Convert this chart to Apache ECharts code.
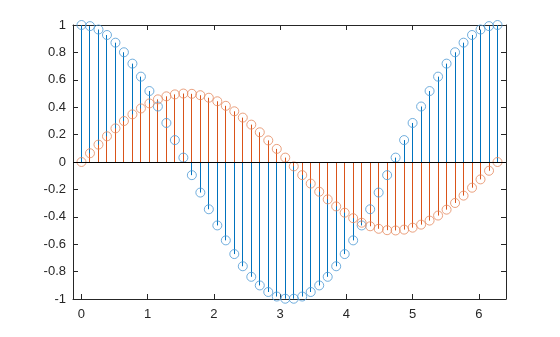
<!DOCTYPE html>
<html>
<head>
<meta charset="utf-8">
<script src="https://cdn.jsdelivr.net/npm/echarts@6/dist/echarts.min.js"></script>
<style>html,body{margin:0;padding:0;background:#fff}#c{width:560px;height:337px}</style>
</head>
<body>
<div id="c"></div>
<script>
const xs = [0, 0.1282, 0.2565, 0.3847, 0.5129, 0.6411, 0.7694, 0.8976, 1.0258, 1.1541,
  1.2823, 1.4105, 1.5387, 1.6670, 1.7952, 1.9234, 2.0517, 2.1799, 2.3081, 2.4363,
  2.5646, 2.6928, 2.8210, 2.9493, 3.0775, 3.2057, 3.3339, 3.4622, 3.5904, 3.7186,
  3.8468, 3.9751, 4.1033, 4.2315, 4.3598, 4.4880, 4.6162, 4.7444, 4.8727, 5.0009,
  5.1291, 5.2574, 5.3856, 5.5138, 5.6420, 5.7703, 5.8985, 6.0267, 6.1550, 6.2832];
const blueVals = [1, 0.992, 0.967, 0.927, 0.871, 0.801, 0.718, 0.623, 0.518, 0.405,
  0.285, 0.160, 0.032, -0.096, -0.223, -0.345, -0.463, -0.572, -0.672, -0.761,
  -0.838, -0.901, -0.949, -0.982, -0.998, -0.998, -0.982, -0.949, -0.901, -0.838,
  -0.761, -0.672, -0.572, -0.463, -0.345, -0.223, -0.096, 0.032, 0.160, 0.285,
  0.405, 0.518, 0.623, 0.718, 0.801, 0.871, 0.927, 0.967, 0.992, 1];
const orangeVals = [0, 0.0639, 0.1268, 0.1876, 0.2454, 0.2991, 0.3478, 0.3909, 0.4276, 0.4572,
  0.4793, 0.4936, 0.4997, 0.4977, 0.4875, 0.4692, 0.4433, 0.4101, 0.3701, 0.3241,
  0.2728, 0.2169, 0.1576, 0.0956, 0.0320, -0.0320, -0.0956, -0.1576, -0.2169, -0.2728,
  -0.3241, -0.3701, -0.4101, -0.4433, -0.4692, -0.4875, -0.4977, -0.4997, -0.4936, -0.4793,
  -0.4572, -0.4276, -0.3909, -0.3478, -0.2991, -0.2454, -0.1876, -0.1268, -0.0639, 0];
const xTicks = [0, 1, 2, 3, 4, 5, 6];
const xMin = -0.1282, xMax = 6.4114;
const yMin = -1, yMax = 1, yStep = 0.2;

const BLUE = '#0072BD', ORANGE = '#D95319', AX = '#262626';
const BLUE_M = '#4d9ad4', ORANGE_M = '#e58a5f';
const FONT = 'Liberation Sans, Arial, Helvetica, sans-serif';

function pairs(vals){ return xs.map((x,i)=>[x, vals[i]]); }
function stemSeries(vals, color){
  return {
    type: 'custom', xAxisIndex: 0, yAxisIndex: 0, data: pairs(vals),
    encode: {x: 0, y: 1}, silent: true, z: 2,
    renderItem: function(params, api){
      const p0 = api.coord([api.value(0), 0]);
      const p1 = api.coord([api.value(0), api.value(1)]);
      const px = Math.round(p0[0] - 0.5) + 0.5;
      return {type: 'line', shape: {x1: px, y1: p0[1], x2: px, y2: p1[1]},
              style: {stroke: color, lineWidth: 1}};
    }
  };
}
function markerSeries(vals, color){
  return {
    type: 'scatter', data: pairs(vals), symbol: 'circle', symbolSize: 9,
    itemStyle: {color: 'rgba(0,0,0,0)', borderColor: color, borderWidth: 1},
    silent: true, z: 4
  };
}
const tickCommon = {show: true, inside: true, length: 5, lineStyle: {color: AX, width: 1}};

const chart = echarts.init(document.getElementById('c'), null, {renderer: 'canvas'});
chart.setOption({
  animation: false,
  backgroundColor: '#fff',
  grid: {left: 73, right: 54, top: 25, bottom: 38, show: false},
  xAxis: [
    {type: 'value', min: xMin, max: xMax, position: 'bottom',
     axisLine: {show: true, onZero: false, lineStyle: {color: AX, width: 1}},
     axisTick: Object.assign({customValues: xTicks}, tickCommon),
     axisLabel: {customValues: xTicks, color: AX, fontSize: 13, fontFamily: FONT, margin: 9},
     splitLine: {show: false}},
    {type: 'value', min: xMin, max: xMax, position: 'top',
     axisLine: {show: true, onZero: false, lineStyle: {color: AX, width: 1}},
     axisTick: Object.assign({customValues: xTicks}, tickCommon),
     axisLabel: {show: false}, splitLine: {show: false}}
  ],
  yAxis: [
    {type: 'value', min: yMin, max: yMax, interval: yStep, position: 'left',
     axisLine: {show: true, onZero: false, lineStyle: {color: AX, width: 1}},
     axisTick: tickCommon,
     axisLabel: {color: AX, fontSize: 13, fontFamily: FONT, margin: 7,
       formatter: v => String(Math.round(v * 10) / 10)},
     splitLine: {show: false}},
    {type: 'value', min: yMin, max: yMax, interval: yStep, position: 'right',
     axisLine: {show: true, onZero: false, lineStyle: {color: AX, width: 1}},
     axisTick: tickCommon, axisLabel: {show: false}, splitLine: {show: false}}
  ],
  series: [
    stemSeries(blueVals, BLUE),
    markerSeries(blueVals, BLUE_M),
    stemSeries(orangeVals, ORANGE),
    markerSeries(orangeVals, ORANGE_M),
    {type: 'line', data: [], silent: true, z: 3,
     markLine: {silent: true, symbol: 'none', label: {show: false},
       lineStyle: {color: '#000', width: 1, type: 'solid'},
       data: [{yAxis: 0}]}}
  ]
});
</script>
</body>
</html>
